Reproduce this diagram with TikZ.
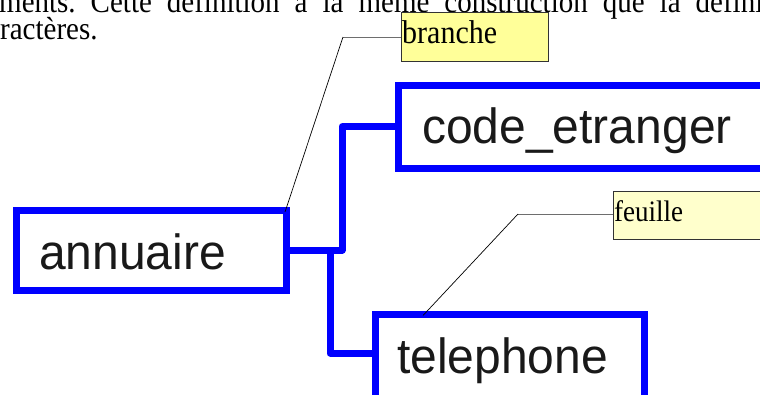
\documentclass[tikz,border=0pt]{standalone}
\usepackage{fontspec}
\setmainfont{Liberation Serif}
\newfontfamily\arialf{Liberation Sans}
\definecolor{bblue}{RGB}{0,0,255}
\definecolor{yel}{RGB}{255,255,153}
\definecolor{lyel}{RGB}{255,255,204}
\definecolor{leadgrey}{RGB}{110,110,110}
\frenchspacing
\begin{document}
\begin{tikzpicture}[x=1pt,y=-1pt,
  bluebox/.style={draw=bblue,line width=7pt,rectangle,anchor=north west,inner sep=0pt,outer sep=0pt},
  conn/.style={draw=bblue,line width=7pt,line join=round},
  callout/.style={draw=black!80,line width=0.8pt,rectangle,anchor=north west,inner sep=0pt,outer sep=0pt},
  bigtxt/.style={anchor=base west,inner sep=0pt,font=\arialf\fontsize{48}{56}\selectfont,text=black!90,yscale=1.03},
  smalltxt/.style={anchor=base west,inner sep=0pt,yscale=1.1},
  leadg/.style={draw=leadgrey,line width=0.8pt},
  leadb/.style={draw=black,line width=0.7pt}]
\useasboundingbox (0,0) rectangle (760,394);
\clip (0,0) rectangle (760,394);
% running text
\node[smalltxt,font=\fontsize{29}{33}\selectfont] (line1) at (-1,12) {\hbox to 764pt{ments. Cette définition a la même construction que la défini}};
\node[smalltxt,font=\fontsize{29}{33}\selectfont] (line2) at (0,39) {ractères.};
% boxes
\node[bluebox,minimum width=270pt,minimum height=80pt] (annuaire) at (16,210) {};
\node[bluebox,minimum width=392pt,minimum height=82.5pt] (code) at (398,85.5) {};
\node[bluebox,minimum width=269pt,minimum height=105pt] (tel) at (375,314.5) {};
\node[bigtxt] (tannuaire) at (39,269) {annuaire};
\node[bigtxt] (tcode) at (422,143) {code\_etranger};
\node[bigtxt] (ttel) at (397,373) {telephone};
% connectors
\coordinate (j1) at (342,250);
\coordinate (j2) at (330,250);
\draw[conn] (annuaire.east) -- (j1) |- (code.west);
\draw[conn] (j2) |- ([yshift=-38.5pt]tel.north west);
% callouts
\node[callout,fill=yel,minimum width=147pt,minimum height=49pt] (branche) at (401,12) {};
\node[smalltxt,font=\fontsize{30}{34}\selectfont] (tbranche) at (402,43) {branche};
\node[callout,fill=lyel,minimum width=180pt,minimum height=48pt] (feuille) at (613,191) {};
\node[smalltxt,font=\fontsize{27}{31}\selectfont] (tfeuille) at (614,221) {feuille};
\coordinate (kb) at (343,37);
\coordinate (kf) at (518,214);
\draw[leadg] ([yshift=-25pt]branche.north west) -- (kb);
\draw[leadb] (kb) -- ([xshift=-1pt,yshift=-2pt]annuaire.north east);
\draw[leadg] ([yshift=-23pt]feuille.north west) -- (kf);
\draw[leadb] (kf) -- ([xshift=48pt,yshift=-1pt]tel.north west);
\end{tikzpicture}
\end{document}
